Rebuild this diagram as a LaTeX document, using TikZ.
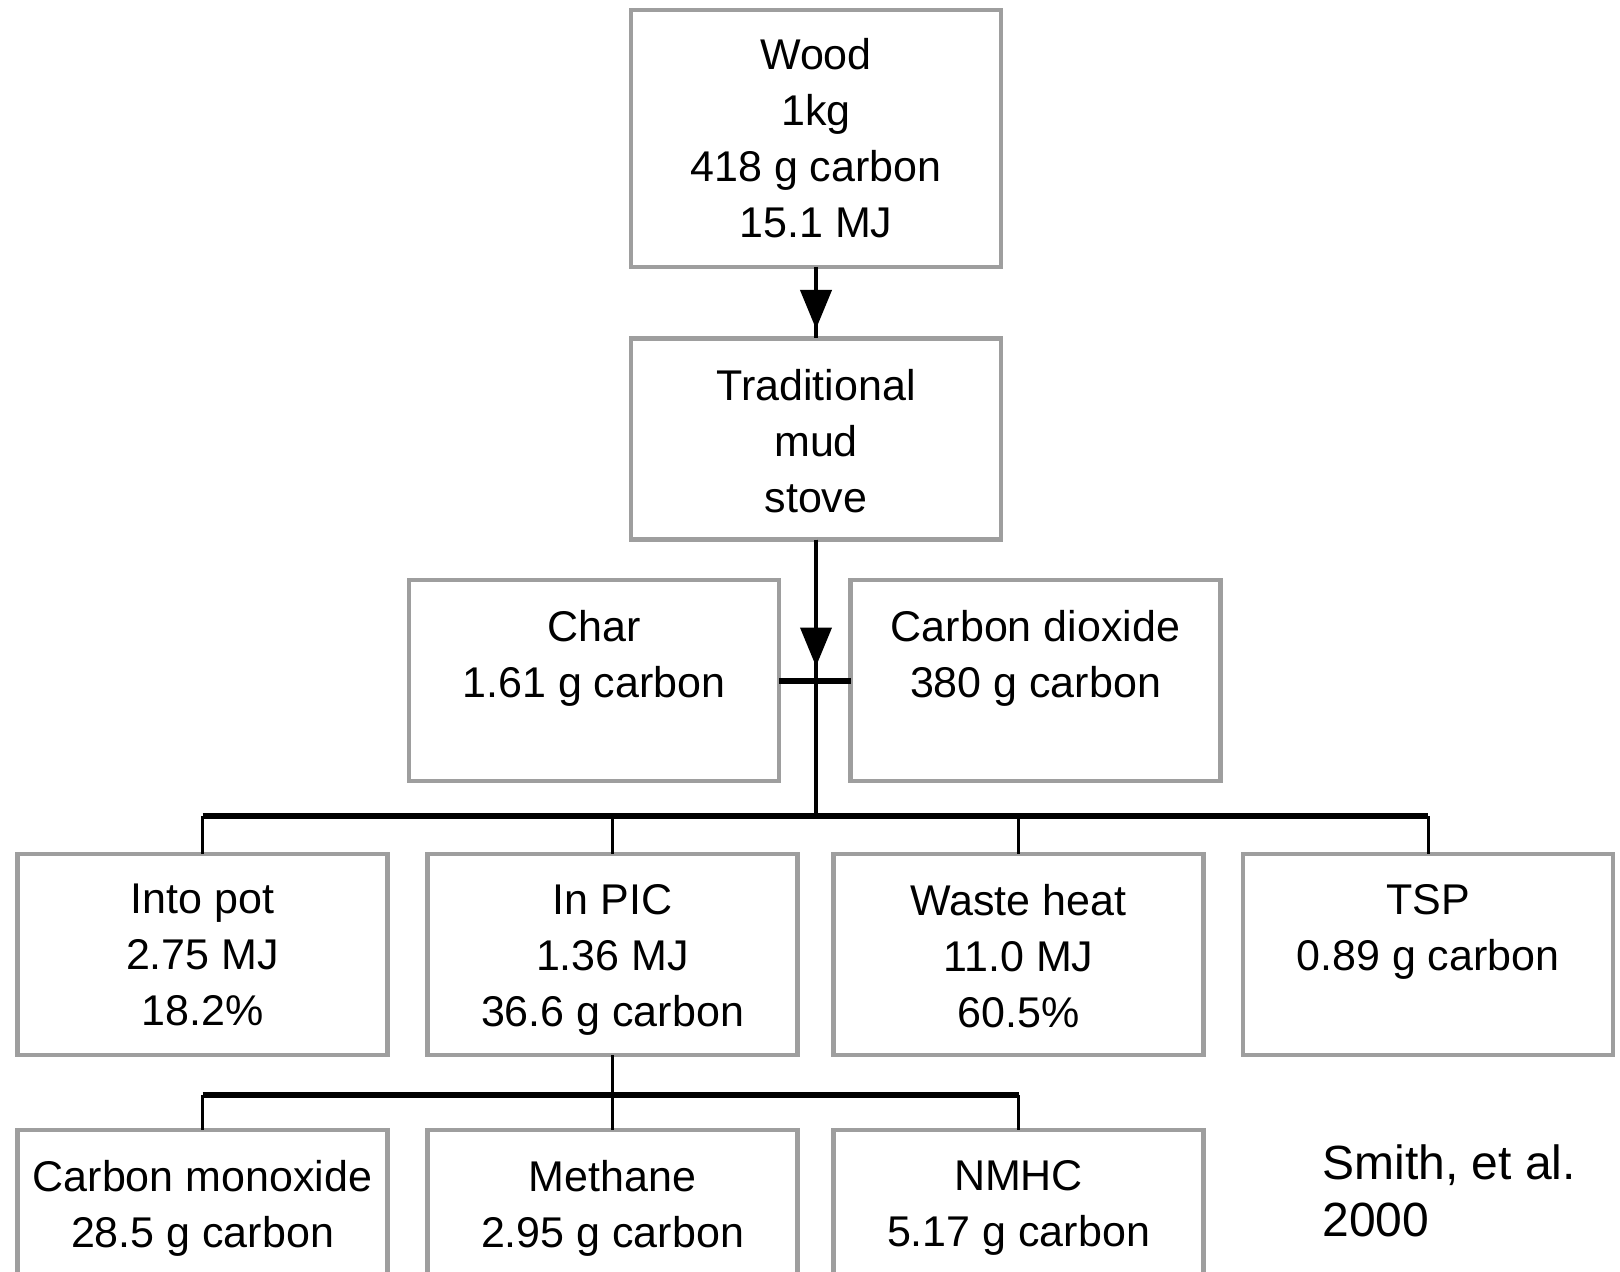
\documentclass[tikz,border=0pt]{standalone}
\usepackage{fontspec}
\setmainfont{Liberation Sans}
\usepackage{tikz}
\usetikzlibrary{positioning,calc,arrows.meta}
\definecolor{boxgray}{RGB}{158,158,158}

\begin{document}
\begin{tikzpicture}[x=0.5pt,y=-0.5pt,
		box/.style={draw=boxgray,line width=2.2pt,minimum width=185pt,minimum height=100.5pt,outer sep=0pt,inner sep=0pt},
		boxtext/.style={anchor=north,inner sep=15pt,align=center,font=\fontsize{21.5}{28}\selectfont},
		conn/.style={line width=2pt},
		bar/.style={line width=3pt},
		drop/.style={line width=1.5pt},
		head/.style={conn,-{Triangle[length=19.5pt,width=15.5pt]}}]
		\useasboundingbox (0,0) rectangle (1620,1272);
		\clip (0,0) rectangle (1620,1272);
		
		\node[box,minimum height=128.5pt,label={[boxtext,inner sep=14pt]north:{Wood\\1kg\\418 g carbon\\15.1 MJ}}] (wood) at (816,138.5) {};
		\node[box,label={[boxtext]north:{Traditional\\mud\\stove}}] (stove) at (816,439) {};
		
		\node[box,label={[boxtext]north:{Char\\1.61 g carbon}}] (char) at (594,680.5) {};
		\node[box,label={[boxtext]north:{Carbon dioxide\\380 g carbon}}] (co2) at (1035.5,680.5) {};
		
		\node[box,label={[boxtext]north:{Into pot\\2.75 MJ\\18.2\%}}] (pot) at (202.5,954.5) {};
		\node[box,label={[boxtext]north:{In PIC\\1.36 MJ\\36.6 g carbon}}] (pic) at (612.5,954.5) {};
		\node[box,label={[boxtext]north:{Waste heat\\11.0 MJ\\60.5\%}}] (waste) at (1018.5,954.5) {};
		\node[box,label={[boxtext]north:{TSP\\0.89 g carbon}}] (tsp) at (1428,954.5) {};
		
		\node[box,label={[boxtext]north:{Carbon monoxide\\28.5 g carbon}}] (co) at (202.5,1230.5) {};
		\node[box,label={[boxtext]north:{Methane\\2.95 g carbon}}] (methane) at (612.5,1230.5) {};
		\node[box,label={[boxtext]north:{NMHC\\5.17 g carbon}}] (nmhc) at (1018.5,1230.5) {};
		
		\node[anchor=north west,inner sep=0pt,align=left,font=\fontsize{24}{28.5}\selectfont] (ref) at (1322,1144) {Smith, et al.\\2000};
		
		% wood into stove
		\draw[conn] (wood.south) -- (stove.north);
		\draw[head] (wood.south) -- ++(0,62);
		
		% stove outputs
		\coordinate (hub) at (816,816);
		\draw[conn] (stove.south) -- (hub);
		\draw[head] (stove.south) -- ++(0,127);
		\draw[bar] (char.east) -- (co2.west);
		\draw[bar] (pot.north |- hub) -- (tsp.north |- hub);
		\foreach \n in {pot,pic,waste,tsp}
			\draw[drop] (\n.north |- hub) -- (\n.north);
		
		% PIC split
		\coordinate (hub2) at (612.5,1095);
		\draw[drop] (pic.south) -- (hub2);
		\draw[bar] (co.north |- hub2) -- (nmhc.north |- hub2);
		\foreach \n in {co,methane,nmhc}
			\draw[drop] (\n.north |- hub2) -- (\n.north);
	\end{tikzpicture}
\end{document}
